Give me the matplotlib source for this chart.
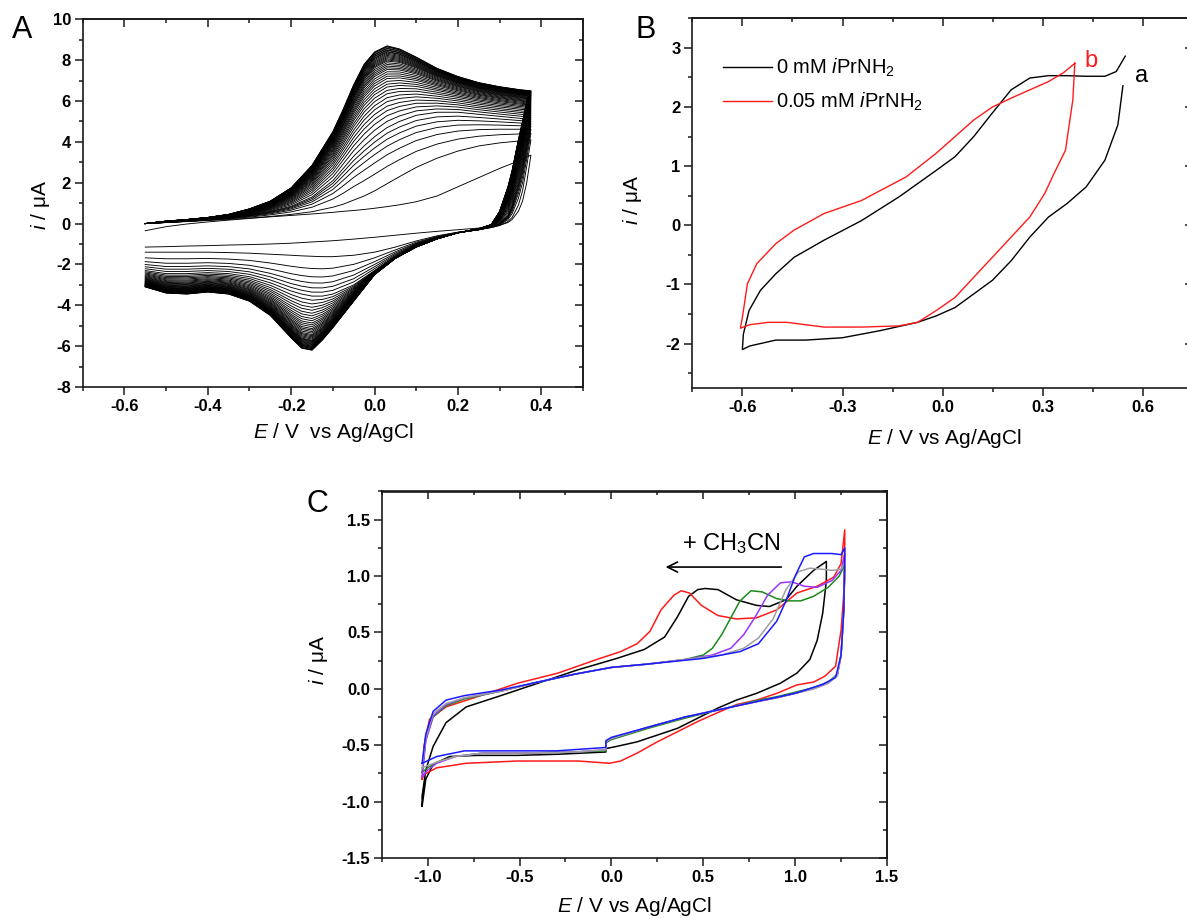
import numpy as np
import matplotlib
matplotlib.use("Agg")
import matplotlib.pyplot as plt

plt.rcParams['font.family'] = ['Liberation Sans', 'DejaVu Sans']
plt.rcParams['mathtext.fontset'] = 'custom'
plt.rcParams['mathtext.rm'] = 'Liberation Sans'
plt.rcParams['mathtext.it'] = 'Liberation Sans:italic'
plt.rcParams['mathtext.bf'] = 'Liberation Sans:bold'

# ---------------- Panel A data (multi-cycle CV) ----------------
A_E_fwd = [-0.55, -0.5, -0.45, -0.4, -0.35, -0.3, -0.25, -0.2, -0.15, -0.1, -0.075, -0.05,
           -0.025, 0.0, 0.03, 0.06, 0.1, 0.15, 0.2, 0.25, 0.3, 0.35, 0.375]
A_fwd_first = [-0.35, -0.15, -0.02, 0.08, 0.17, 0.25, 0.33, 0.4, 0.47, 0.55, 0.6, 0.64,
               0.69, 0.75, 0.83, 0.92, 1.07, 1.35, 1.8, 2.25, 2.7, 3.1, 3.35]
A_fwd_second = [0.0, 0.05, 0.1, 0.15, 0.2, 0.27, 0.35, 0.45, 0.58, 0.8, 0.95, 1.15,
                1.35, 1.6, 1.95, 2.3, 2.75, 3.2, 3.55, 3.8, 3.95, 4.05, 4.1]
A_fwd_mid = [0.0, 0.06, 0.12, 0.2, 0.3, 0.42, 0.6, 0.85, 1.3, 2.1, 2.7, 3.3,
             3.8, 4.25, 4.7, 5.0, 5.3, 5.45, 5.45, 5.35, 5.25, 5.15, 5.1]
A_fwd_last = [0.0, 0.12, 0.2, 0.3, 0.45, 0.72, 1.1, 1.75, 2.85, 4.5, 5.6, 6.8,
              7.8, 8.4, 8.7, 8.55, 8.15, 7.6, 7.2, 6.9, 6.7, 6.55, 6.5]

A_E_rev = [0.375, 0.365, 0.355, 0.345, 0.33, 0.32, 0.3, 0.28, 0.25, 0.2, 0.15, 0.1, 0.05,
           0.0, -0.05, -0.1, -0.125, -0.15, -0.175, -0.2, -0.25, -0.3, -0.35, -0.4, -0.45, -0.5, -0.55]
A_rev_first = [3.35, 2.0, 1.1, 0.6, 0.2, 0.05, -0.08, -0.15, -0.22, -0.3, -0.38, -0.47, -0.57,
               -0.67, -0.76, -0.84, -0.87, -0.9, -0.93, -0.96, -1.0, -1.03, -1.05, -1.08, -1.1, -1.13, -1.15]
A_rev_second = [4.1, 2.8, 1.6, 0.9, 0.3, 0.1, -0.1, -0.2, -0.3, -0.42, -0.6, -0.85, -1.15,
                -1.4, -1.55, -1.62, -1.62, -1.6, -1.58, -1.55, -1.5, -1.45, -1.42, -1.4, -1.4, -1.4, -1.4]
A_rev_mid = [5.1, 4.0, 2.9, 2.0, 0.9, 0.4, 0.0, -0.15, -0.3, -0.45, -0.7, -1.05, -1.6,
             -2.3, -3.0, -3.45, -3.55, -3.55, -3.45, -3.3, -2.9, -2.6, -2.45, -2.4, -2.45, -2.45, -2.3]
A_rev_last = [6.5, 6.0, 5.0, 4.1, 2.6, 1.8, 0.6, -0.05, -0.25, -0.45, -0.75, -1.15, -1.7,
              -2.5, -3.8, -5.1, -5.7, -6.2, -6.1, -5.6, -4.5, -3.8, -3.45, -3.35, -3.45, -3.4, -3.1]

# forward-scan current of each cycle at +0.30 V
A_i_at_0p3V = [2.7, 3.95, 4.35, 4.62, 4.82, 4.98, 5.12, 5.25, 5.36, 5.46, 5.55, 5.63, 5.71,
               5.78, 5.85, 5.91, 5.97, 6.02, 6.07, 6.12, 6.16, 6.2, 6.24, 6.28, 6.31, 6.34,
               6.37, 6.4, 6.43, 6.45, 6.47, 6.49, 6.51, 6.53, 6.55, 6.57, 6.59, 6.6, 6.62,
               6.63, 6.65, 6.66, 6.68, 6.69, 6.7]

A_xticks = [-0.6, -0.4, -0.2, 0.0, 0.2, 0.4]
A_xticklabels = ['-0.6', '-0.4', '-0.2', '0.0', '0.2', '0.4']
A_xminor = [-0.7, -0.5, -0.3, -0.1, 0.1, 0.3, 0.5]
A_yticks = [-8, -6, -4, -2, 0, 2, 4, 6, 8, 10]
A_yticklabels = ['-8', '-6', '-4', '-2', '0', '2', '4', '6', '8', '10']
A_yminor = [-7, -5, -3, -1, 1, 3, 5, 7, 9]

# ---------------- Panel B data ----------------
B_E_0mM_cat = [0.54, 0.525, 0.486, 0.43, 0.373, 0.317, 0.261, 0.205, 0.149, 0.093, 0.037,
               -0.019, -0.075, -0.187, -0.3, -0.41, -0.5, -0.578, -0.6]
B_i_0mM_cat = [2.36, 1.7, 1.1, 0.65, 0.37, 0.14, -0.2, -0.6, -0.93, -1.16, -1.39,
               -1.53, -1.64, -1.78, -1.9, -1.94, -1.94, -2.04, -2.1]
B_E_0mM_an = [-0.597, -0.58, -0.546, -0.5, -0.445, -0.355, -0.243, -0.131, -0.019, 0.037,
              0.093, 0.149, 0.205, 0.261, 0.317, 0.373, 0.43, 0.486, 0.52, 0.547]
B_i_0mM_an = [-1.84, -1.44, -1.1, -0.82, -0.54, -0.25, 0.08, 0.48, 0.93, 1.16,
              1.5, 1.9, 2.29, 2.49, 2.53, 2.53, 2.52, 2.52, 2.6, 2.86]
B_E_005mM_cat = [0.396, 0.39, 0.368, 0.334, 0.306, 0.261, 0.205, 0.149, 0.093, 0.037,
                 -0.019, -0.075, -0.131, -0.243, -0.355, -0.467, -0.523, -0.578, -0.606]
B_i_005mM_cat = [2.74, 2.12, 1.27, 0.88, 0.54, 0.14, -0.2, -0.54, -0.88, -1.22,
                 -1.44, -1.64, -1.7, -1.72, -1.72, -1.64, -1.64, -1.68, -1.74]
B_E_005mM_an = [-0.606, -0.6, -0.585, -0.557, -0.5, -0.445, -0.355, -0.243, -0.109, -0.019,
                0.037, 0.093, 0.149, 0.205, 0.261, 0.317, 0.362, 0.396]
B_i_005mM_an = [-1.74, -1.56, -0.99, -0.65, -0.31, -0.08, 0.2, 0.42, 0.82, 1.22,
                1.5, 1.78, 2.0, 2.15, 2.29, 2.43, 2.58, 2.74]
B_labels = [r"0 mM $i$PrNH$_2$", r"0.05 mM $i$PrNH$_2$"]

B_xticks = [-0.6, -0.3, 0.0, 0.3, 0.6]
B_xticklabels = ['-0.6', '-0.3', '0.0', '0.3', '0.6']
B_xminor = [-0.75, -0.45, -0.15, 0.15, 0.45, 0.75]
B_yticks = [-2, -1, 0, 1, 2, 3]
B_yticklabels = ['-2', '-1', '0', '1', '2', '3']
B_yminor = [-2.5, -1.5, -0.5, 0.5, 1.5, 2.5, 3.5]

# ---------------- Panel C data ----------------
C_E_black = [-1.03, -1.03, -1.01, -0.97, -0.9, -0.79, -0.62, -0.4, -0.18, 0.03, 0.18, 0.29, 0.36,
             0.42, 0.47, 0.51, 0.58, 0.68, 0.79, 0.86, 0.95, 1.01, 1.1, 1.17,
             1.17, 1.15, 1.12, 1.08, 1.01, 0.92, 0.79, 0.68, 0.58, 0.47, 0.36, 0.25, 0.14, 0.03,
             -0.03, -0.03, -0.29, -0.51, -0.73, -0.88, -0.97, -1.01, -1.03]
C_i_black = [-1.04, -0.95, -0.72, -0.51, -0.3, -0.16, -0.07, 0.05, 0.17, 0.27, 0.35, 0.46, 0.64,
             0.82, 0.88, 0.89, 0.88, 0.79, 0.74, 0.73, 0.79, 0.91, 1.05, 1.13,
             0.96, 0.67, 0.43, 0.26, 0.14, 0.05, -0.04, -0.1, -0.17, -0.26, -0.35, -0.41, -0.47, -0.51,
             -0.53, -0.56, -0.58, -0.59, -0.59, -0.6, -0.67, -0.8, -1.04]
C_E_red = [-1.03, -1.02, -0.99, -0.9, -0.73, -0.51, -0.29, -0.08, 0.05, 0.14, 0.21, 0.27, 0.34,
           0.38, 0.425, 0.49, 0.58, 0.68, 0.79, 0.9, 1.01, 1.12, 1.21, 1.25, 1.27,
           1.27, 1.25, 1.22, 1.16, 1.1, 1.01, 0.9, 0.79, 0.68, 0.58, 0.47, 0.36, 0.25, 0.14, 0.05,
           -0.01, -0.18, -0.51, -0.79, -0.95, -1.02, -1.03]
C_i_red = [-0.8, -0.51, -0.27, -0.16, -0.07, 0.05, 0.14, 0.26, 0.33, 0.4, 0.51, 0.7, 0.83,
           0.87, 0.85, 0.74, 0.65, 0.62, 0.63, 0.7, 0.85, 0.91, 0.99, 1.11, 1.41,
           0.96, 0.52, 0.2, 0.11, 0.06, 0.035, -0.04, -0.1, -0.14, -0.21, -0.29, -0.38, -0.47, -0.57, -0.64,
           -0.66, -0.64, -0.64, -0.66, -0.7, -0.76, -0.8]
C_E_green = [-1.03, -1.01, -0.97, -0.9, -0.8, -0.6, -0.4, -0.2, 0.0, 0.2, 0.4, 0.5, 0.55, 0.6,
             0.65, 0.7, 0.76, 0.82, 0.9, 0.97, 1.03, 1.1, 1.18, 1.24, 1.27,
             1.265, 1.25, 1.23, 1.18, 1.1, 1.0, 0.9, 0.8, 0.6, 0.4, 0.2, 0.0, -0.03, -0.03,
             -0.2, -0.5, -0.7, -0.85, -0.95, -1.0, -1.03]
C_i_green = [-0.74, -0.45, -0.25, -0.15, -0.09, -0.02, 0.06, 0.13, 0.19, 0.22, 0.26, 0.3, 0.36, 0.48,
             0.63, 0.78, 0.87, 0.86, 0.8, 0.78, 0.78, 0.82, 0.9, 1.0, 1.1,
             0.7, 0.3, 0.13, 0.06, 0.01, -0.03, -0.07, -0.1, -0.18, -0.26, -0.35, -0.45, -0.48, -0.55,
             -0.56, -0.57, -0.57, -0.6, -0.65, -0.7, -0.74]
C_E_purple = [-1.03, -1.01, -0.97, -0.9, -0.8, -0.6, -0.4, -0.2, 0.0, 0.2, 0.4, 0.55, 0.65, 0.72,
              0.78, 0.85, 0.92, 0.98, 1.05, 1.12, 1.2, 1.25, 1.27,
              1.265, 1.25, 1.23, 1.18, 1.1, 1.0, 0.9, 0.8, 0.6, 0.4, 0.2, 0.0, -0.03, -0.03,
              -0.2, -0.5, -0.7, -0.85, -0.95, -1.0, -1.03]
C_i_purple = [-0.78, -0.46, -0.24, -0.14, -0.08, -0.02, 0.06, 0.13, 0.19, 0.22, 0.26, 0.3, 0.36, 0.48,
              0.63, 0.83, 0.94, 0.95, 0.91, 0.9, 0.96, 1.05, 1.2,
              0.7, 0.3, 0.12, 0.05, 0.0, -0.04, -0.08, -0.11, -0.18, -0.25, -0.34, -0.44, -0.47, -0.54,
              -0.56, -0.57, -0.57, -0.6, -0.66, -0.72, -0.78]
C_E_gray = [-1.03, -1.01, -0.97, -0.9, -0.8, -0.6, -0.4, -0.2, 0.0, 0.2, 0.4, 0.6, 0.72, 0.8,
            0.88, 0.95, 1.02, 1.08, 1.15, 1.2, 1.25, 1.27,
            1.265, 1.25, 1.23, 1.18, 1.1, 1.0, 0.9, 0.8, 0.6, 0.4, 0.2, 0.0, -0.03, -0.03,
            -0.2, -0.5, -0.7, -0.85, -0.95, -1.0, -1.03]
C_i_gray = [-0.7, -0.43, -0.22, -0.13, -0.08, -0.02, 0.06, 0.13, 0.19, 0.22, 0.26, 0.3, 0.36, 0.45,
            0.62, 0.88, 1.04, 1.07, 1.06, 1.05, 1.06, 1.12,
            0.7, 0.3, 0.12, 0.05, 0.0, -0.04, -0.08, -0.11, -0.18, -0.25, -0.34, -0.44, -0.47, -0.54,
            -0.56, -0.57, -0.57, -0.6, -0.65, -0.68, -0.7]
C_E_blue = [-1.03, -1.01, -0.97, -0.9, -0.8, -0.6, -0.4, -0.2, 0.0, 0.2, 0.5, 0.7, 0.8, 0.9,
            0.95, 1.0, 1.05, 1.1, 1.2, 1.25, 1.27,
            1.265, 1.25, 1.22, 1.15, 1.0, 0.8, 0.6, 0.4, 0.2, 0.0, -0.03, -0.03,
            -0.3, -0.6, -0.8, -0.95, -1.03]
C_i_blue = [-0.66, -0.4, -0.2, -0.1, -0.06, -0.01, 0.06, 0.13, 0.19, 0.22, 0.27, 0.33, 0.4, 0.6,
            0.78, 1.0, 1.17, 1.2, 1.2, 1.19, 1.25,
            0.7, 0.3, 0.1, 0.04, -0.04, -0.11, -0.18, -0.25, -0.34, -0.43, -0.46, -0.52,
            -0.55, -0.55, -0.55, -0.6, -0.66]

C_xticks = [-1.0, -0.5, 0.0, 0.5, 1.0, 1.5]
C_xticklabels = ['-1.0', '-0.5', '0.0', '0.5', '1.0', '1.5']
C_xminor = [-1.25, -0.75, -0.25, 0.25, 0.75, 1.25]
C_yticks = [-1.5, -1.0, -0.5, 0.0, 0.5, 1.0, 1.5]
C_yticklabels = ['-1.5', '-1.0', '-0.5', '0.0', '0.5', '1.0', '1.5']
C_yminor = [-1.25, -0.75, -0.25, 0.25, 0.75, 1.25, 1.75]

# ---------------- figure ----------------
W, H = 1187, 919
fig = plt.figure(figsize=(W / 100, H / 100), dpi=100)


def px_axes(l, r, t, b):
    return fig.add_axes([l / W, 1 - b / H, (r - l) / W, (b - t) / H])


SPINE = '#1a1a1a'
TICKFS = 12
LABFS = 15


def style(ax, xt, xtl, xm, yt, ytl, ym, xlim, ylim):
    ax.set_xlim(*xlim)
    ax.set_ylim(*ylim)
    ax.set_xticks(xt, labels=xtl, fontweight='bold', fontsize=TICKFS)
    ax.set_yticks(yt, labels=ytl, fontweight='bold', fontsize=TICKFS)
    ax.set_xticks(xm, minor=True)
    ax.set_yticks(ym, minor=True)
    ax.tick_params(which='both', direction='out', width=1.1, color=SPINE, pad=3)
    ax.tick_params(which='major', length=5.5)
    ax.tick_params(which='minor', length=3)
    for s in ax.spines.values():
        s.set_linewidth(1.2)
        s.set_color(SPINE)
    sx = ax.secondary_xaxis('top')
    sx.set_xticks(xt)
    sx.set_xticks(xm, minor=True)
    sx.tick_params(which='both', direction='in', labeltop=False, width=1.1, color=SPINE)
    sx.tick_params(which='major', length=5.5)
    sx.tick_params(which='minor', length=3)
    sx.spines['top'].set_linewidth(1.2)
    sx.spines['top'].set_color(SPINE)
    sy = ax.secondary_yaxis('right')
    sy.set_yticks(yt)
    sy.set_yticks(ym, minor=True)
    sy.tick_params(which='both', direction='in', labelright=False, width=1.1, color=SPINE)
    sy.tick_params(which='major', length=5.5)
    sy.tick_params(which='minor', length=3)
    sy.spines['right'].set_linewidth(1.2)
    sy.spines['right'].set_color(SPINE)


# ---- Panel A ----
axA = px_axes(82.7, 583, 19.3, 387)
T_f = np.array([A_fwd_first, A_fwd_second, A_fwd_mid, A_fwd_last])
T_r = np.array([A_rev_first, A_rev_second, A_rev_mid, A_rev_last])
ref = T_f[:, A_E_fwd.index(0.3)]
E_cycle = np.concatenate([A_E_fwd, A_E_rev])
for v in A_i_at_0p3V:
    k = np.interp(v, ref, np.arange(len(ref)))
    j = min(int(np.floor(k)), len(ref) - 2)
    f = k - j
    fwd = (1 - f) * T_f[j] + f * T_f[j + 1]
    rev = (1 - f) * T_r[j] + f * T_r[j + 1]
    axA.plot(E_cycle, np.concatenate([fwd, rev]), color='black', lw=0.65)
style(axA, A_xticks, A_xticklabels, A_xminor, A_yticks, A_yticklabels, A_yminor,
      (-0.7, 0.5), (-8, 10))

# ---- Panel B ----
BL, BR, BT, BB = 692.3, 1193, 18.3, 388
axB = px_axes(BL, BR, BT, BB)
RED = '#ff1a1a'
axB.plot(B_E_0mM_cat + B_E_0mM_an, B_i_0mM_cat + B_i_0mM_an, color='black', lw=1.0)
axB.plot(B_E_005mM_cat + B_E_005mM_an, B_i_005mM_cat + B_i_005mM_an, color=RED, lw=1.0)
style(axB, B_xticks, B_xticklabels, B_xminor, B_yticks, B_yticklabels, B_yminor,
      (-0.75, 0.75), (-2.75, 3.5))


def bx(px):
    return (px - BL) / (BR - BL)


def by(py):
    return (BB - py) / (BB - BT)


for py, col, lab in [(67, 'black', B_labels[0]), (101, RED, B_labels[1])]:
    axB.plot([bx(722.7), bx(771.7)], [by(py), by(py)], color=col, lw=1.0,
             transform=axB.transAxes, clip_on=False)
    axB.text(bx(776.5), by(py + 1), lab, fontsize=14.5, ha='left', va='center',
             transform=axB.transAxes)
axB.text(0.575, 2.52, 'a', color='black', fontsize=17, ha='left', va='center')
axB.text(0.425, 2.78, 'b', color=RED, fontsize=17, ha='left', va='center')

# ---- Panel C ----
axC = px_axes(381.7, 887, 491.5, 858)
for E, I, c in [(C_E_black, C_i_black, 'black'), (C_E_red, C_i_red, RED),
                (C_E_green, C_i_green, '#1a8a1a'), (C_E_purple, C_i_purple, '#9933ff'),
                (C_E_gray, C_i_gray, '#a0a0a0'), (C_E_blue, C_i_blue, '#1a1aff')]:
    axC.plot(E, I, color=c, lw=1.1)
style(axC, C_xticks, C_xticklabels, C_xminor, C_yticks, C_yticklabels, C_yminor,
      (-1.25, 1.5), (-1.5, 1.75))
axC.annotate('', xy=(0.28, 1.08), xytext=(0.94, 1.08),
             arrowprops=dict(arrowstyle='->', color='black', lw=1.2, mutation_scale=18))
axC.text(0.65, 1.29, r"+ CH$_3$CN", fontsize=17, ha='center', va='center')

# ---- axis labels & panel letters ----
ylab = r"$i$ / μA"
fig.text(41 / W, 1 - 205 / H, ylab, rotation=90, fontsize=LABFS, ha='center', va='center')
fig.text(633 / W, 1 - 200 / H, ylab, rotation=90, fontsize=LABFS, ha='center', va='center')
fig.text(319 / W, 1 - 660 / H, ylab, rotation=90, fontsize=LABFS, ha='center', va='center')
fig.text(333 / W, 1 - 432 / H, r"$E$ / V  vs Ag/AgCl", fontsize=LABFS, ha='center', va='center')
fig.text(944 / W, 1 - 438 / H, r"$E$ / V vs Ag/AgCl", fontsize=LABFS, ha='center', va='center')
fig.text(634 / W, 1 - 907 / H, r"$E$ / V vs Ag/AgCl", fontsize=LABFS, ha='center', va='center')
fig.text(22 / W, 1 - 30 / H, 'A', fontsize=22, ha='center', va='center')
fig.text(646 / W, 1 - 30 / H, 'B', fontsize=22, ha='center', va='center')
fig.text(317 / W, 1 - 504 / H, 'C', fontsize=22, ha='center', va='center')

fig.savefig('out.png', dpi=100)
